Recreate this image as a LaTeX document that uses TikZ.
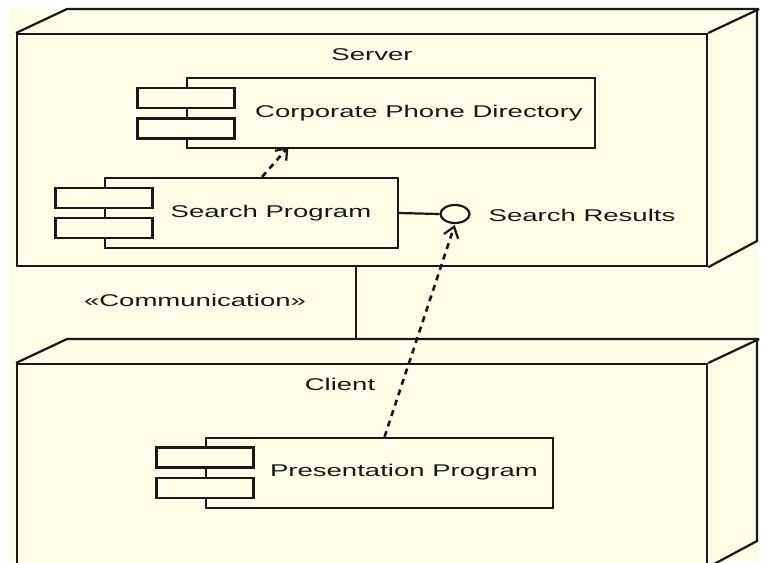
\documentclass[tikz,border=0pt]{standalone}
\usepackage{fontspec}
\setmainfont{Liberation Sans}
\usetikzlibrary{arrows.meta,calc,shapes.geometric}
\definecolor{cream}{RGB}{255,253,232}
\definecolor{ink}{RGB}{24,24,24}
\newcommand\wtxt[1]{\scalebox{1.62}[1]{#1}}
\begin{document}
\begin{tikzpicture}[x=1pt,y=-1pt,line width=2.2pt,
  nodebox/.style={draw=ink,fill=cream,rectangle,inner sep=0pt,anchor=north west},
  comp/.style={draw=ink,fill=cream,rectangle,inner sep=0pt,minimum height=70pt},
  tab/.style={draw=ink,fill=cream,rectangle,inner sep=0pt,minimum width=97pt,minimum height=20pt},
  lbl/.style={font=\fontsize{17}{20}\selectfont,text=ink,inner sep=0pt},
  face/.style={draw=ink,line join=miter},
  dep/.style={draw=ink,line width=2.6pt,dash pattern=on 6pt off 5pt,-{Straight Barb[length=10pt,width=15pt,line width=2.2pt]}},
  iface/.style={draw=ink,fill=cream,ellipse,inner sep=0pt,minimum width=29pt,minimum height=18pt}]
\useasboundingbox (0,0) rectangle (783,562);
\fill[white] (0,0) rectangle (783,562);
\fill[cream] (10,9) rectangle (758,562);

% Server node
\node[nodebox,minimum width=690pt,minimum height=232pt] (server) at (16,33) {};
\draw[face] (server.north west) -- ++(51,-24) -- ++(690,0) -- ++(0,232) -- (server.south east);
\draw[face] (server.north east) -- ++(51,-24);
\node[lbl] (tserver) at (372,55) {\wtxt{Server}};

% Client node
\node[nodebox,minimum width=690pt,minimum height=202pt] (client) at (16,363) {};
\draw[face] (client.north west) -- ++(51,-24) -- ++(690,0) -- ++(0,202) -- (client.south east);
\draw[face] (client.north east) -- ++(51,-24);
\node[lbl] (tclient) at (340,384) {\wtxt{Client}};

% Communication link
\draw[ink,line width=2pt] ([xshift=-6pt]server.south) -- ([xshift=-6pt,yshift=24pt]client.north);
\node[lbl] (tcomm) at (195,300) {\wtxt{«Communication»}};

% Corporate Phone Directory
\node[comp,minimum width=408pt] (cpd) at (391,113) {};
\node[tab] (cpdt1) at (cpd.west |- 0,98) {};
\node[tab] (cpdt2) at (cpd.west |- 0,128.5) {};
\node[lbl] (tcpd) at (419,113) {\wtxt{Corporate Phone Directory}};

% Search Program
\node[comp,minimum width=293pt] (search) at (251.5,213) {};
\node[tab] (searcht1) at (search.west |- 0,198) {};
\node[tab] (searcht2) at (search.west |- 0,228) {};
\node[lbl] (tsearch) at (271,213) {\wtxt{Search Program}};

% Interface
\node[iface] (res) at (455,214) {};
\draw[ink] (search.east) -- (res.west);
\node[lbl] (tres) at (582,215) {\wtxt{Search Results}};

% Presentation Program
\node[comp,minimum width=347pt] (pres) at (379.5,473) {};
\node[tab] (prest1) at (pres.west |- 0,457.5) {};
\node[tab] (prest2) at (pres.west |- 0,488) {};
\node[lbl] (tpres) at (404,472) {\wtxt{Presentation Program}};

% Dependencies
\draw[dep,shorten >=-3pt] ($(search.north west)!0.536!(search.north east)$) -- ($(cpd.south west)!0.245!(cpd.south east)$);
\draw[dep,shorten >=1pt] ([xshift=5pt]pres.north) -- (res.south);
\end{tikzpicture}
\end{document}
